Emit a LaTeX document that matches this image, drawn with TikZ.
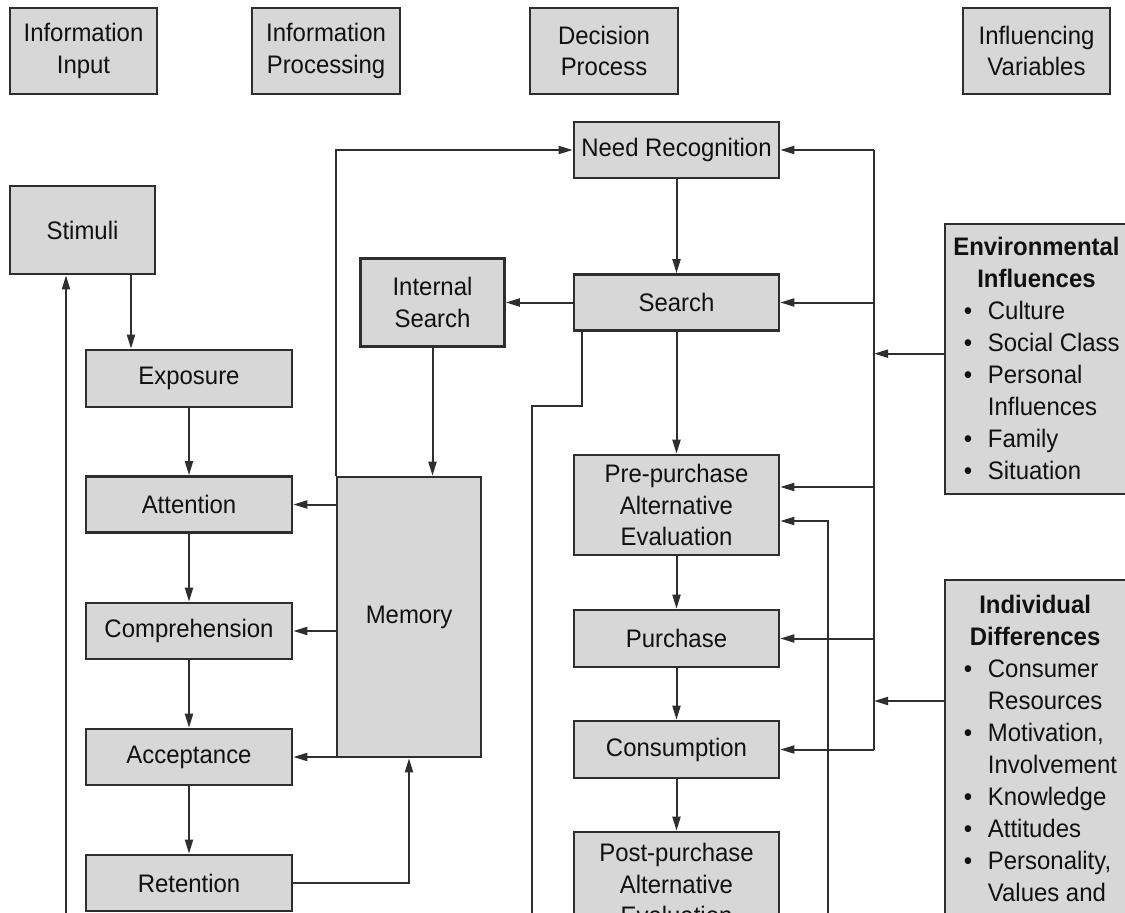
\documentclass[tikz,border=0pt]{standalone}
\usepackage{fontspec}
\setmainfont{Liberation Sans}[FakeStretch=0.945]
\usetikzlibrary{arrows.meta}
\definecolor{boxfill}{HTML}{D7D7D7}
\definecolor{ink}{HTML}{2E2E2E}
\definecolor{txt}{HTML}{111111}
% bullet item and its continuation line inside the side panels
\newcommand\bitem[1]{\hspace*{8pt}\makebox[18pt][l]{\textbullet}#1}
\newcommand\bcont[1]{\hspace*{26pt}#1}
\newcommand\boxhead[1]{\multicolumn{1}{@{}c@{}}{\bfseries #1}}

\begin{document}
\begin{tikzpicture}[x=0.75pt,y=-0.75pt,
  every node/.style={font=\fontsize{19}{23.5}\selectfont, text=txt},
  box/.style={draw=ink, fill=boxfill, line width=2pt, inner sep=0pt, align=center},
  wh/.style 2 args={minimum width=#1*0.75pt, minimum height=#2*0.75pt},
  link/.style={draw=ink, line width=1.5pt, -{Triangle[length=10.5pt,width=6pt]}},
  plain/.style={draw=ink, line width=1.5pt}
]
\fill[white] (0,0) rectangle (1125,913);
\path[use as bounding box] (0,0) rectangle (1125,913);
\clip (0,0) rectangle (1125,913);

% column headings
\node[box, wh={147}{86}] (hin)   at (83.5,51)  {Information\\Input};
\node[box, wh={148}{86}] (hproc) at (326,51)   {Information\\Processing};
\node[box, wh={148}{86}] (hdec)  at (604,51)   {Decision\\Process};
\node[box, wh={147}{86}] (hvar)  at (1036.5,51) {Influencing\\Variables};

% information input / processing
\node[box, wh={145}{88}]  (stim) at (82.5,230)  {Stimuli};
\node[box, wh={206}{57}]  (expo) at (189,378.5) {Exposure};
\node[box, wh={206}{56}]  (atte) at (189,504.5) {Attention};
\node[box, wh={206}{56}]  (comp) at (189,631)   {Comprehension};
\node[box, wh={206}{56}]  (acce) at (189,757)   {Acceptance};
\node[box, wh={206}{56}]  (rete) at (189,883)   {Retention};
\node[box, wh={144}{88}]  (isrch) at (432.5,302.5) {Internal\\Search};
\node[box, wh={144}{280}] (mem)  at (409,617)   {Memory};

% decision process
\node[box, wh={205}{56}]  (need) at (676.5,150)   {Need Recognition};
\node[box, wh={205}{56}]  (srch) at (676.5,302.5) {Search};
\node[box, wh={205}{100}] (pre)  at (676.5,505)   {Pre-purchase\\Alternative\\Evaluation};
\node[box, wh={205}{57}]  (purc) at (676.5,638.5) {Purchase};
\node[box, wh={205}{57}]  (cons) at (676.5,749.5) {Consumption};
\node[box, wh={205}{104}] (post) at (676.5,884)   {Post-purchase\\Alternative\\Evaluation};

% influencing variables
\node[box, wh={190}{270}] (env) at (1040,359) {};
\node[anchor=north west, inner sep=0pt] (envtext) at (953,233)
  {\fontsize{19}{24}\selectfont\begin{tabular}{@{}l@{}}
   \boxhead{Environmental}\\ \boxhead{Influences}\\
   \bitem{Culture}\\ \bitem{Social Class}\\ \bitem{Personal}\\ \bcont{Influences}\\
   \bitem{Family}\\ \bitem{Situation}
   \end{tabular}};
\node[box, wh={190}{420}] (ind) at (1040,790) {};
\node[anchor=north west, inner sep=0pt] (indtext) at (953,591)
  {\fontsize{19}{24}\selectfont\begin{tabular}{@{}l@{}}
   \boxhead{Individual}\\ \boxhead{Differences}\\
   \bitem{Consumer}\\ \bcont{Resources}\\ \bitem{Motivation,}\\ \bcont{Involvement}\\
   \bitem{Knowledge}\\ \bitem{Attitudes}\\ \bitem{Personality,}\\ \bcont{Values and}
   \end{tabular}};

% helper coordinates
\coordinate (sx)   at (131,0);
\coordinate (ub)   at (66,930);
\coordinate (bus)  at (874,0);
\coordinate (fb)   at (828,930);
\coordinate (preA) at (0,487);
\coordinate (preB) at (0,521);
\coordinate (indy) at (0,701);
\coordinate (sl)   at (582,0);
\coordinate (sk)   at (532,406);
\coordinate (bot)  at (0,930);

% input / processing flow
\draw[link] (stim.south -| sx) -- (expo.north -| sx);
\draw[link] (expo) -- (atte);
\draw[link] (atte) -- (comp);
\draw[link] (comp) -- (acce);
\draw[link] (acce) -- (rete);
\draw[link] (ub) -- (ub |- stim.south);
\draw[link] (rete.east) -| (mem.south);
\draw[link] (mem.west |- atte.east) -- (atte.east);
\draw[link] (mem.west |- comp.east) -- (comp.east);
\draw[link] (mem.west |- acce.east) -- (acce.east);
\draw[link] (mem.north west) |- (need.west);
\draw[link] (isrch.south) -- (isrch.south |- mem.north);
\draw[link] (srch.west) -- (isrch.east);

% decision flow
\draw[link] (need) -- (srch);
\draw[link] (srch) -- (pre);
\draw[link] (pre) -- (purc);
\draw[link] (purc) -- (cons);
\draw[link] (cons) -- (post);
\draw[plain] (srch.south -| sl) -- (sl |- sk) -- (sk) -- (sk |- bot);
\draw[link] (fb) |- (pre.east |- preB);

% influence bus
\draw[plain] (bus |- need.east) -- (bus |- cons.east);
\draw[link] (bus |- need.east) -- (need.east);
\draw[link] (bus |- srch.east) -- (srch.east);
\draw[link] (bus |- preA) -- (pre.east |- preA);
\draw[link] (bus |- purc.east) -- (purc.east);
\draw[link] (bus |- cons.east) -- (cons.east);
\draw[link] ([yshift=4pt]env.west) -- ([yshift=4pt]env.west -| bus);
\draw[link] (ind.west |- indy) -- (bus |- indy);
\end{tikzpicture}
\end{document}
